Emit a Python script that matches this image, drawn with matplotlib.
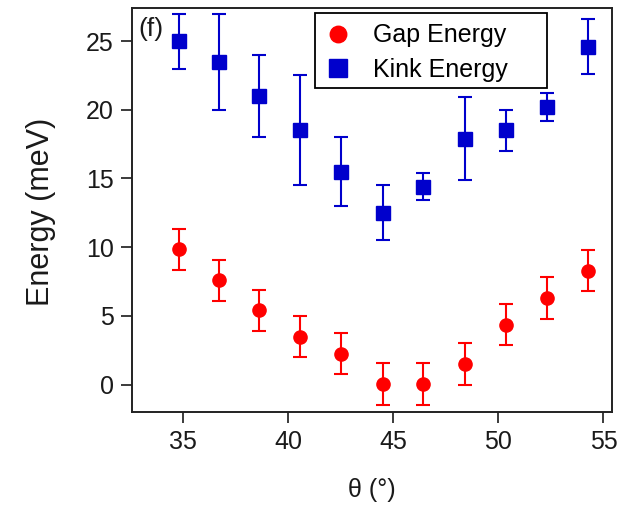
import matplotlib
matplotlib.use("Agg")
import matplotlib.pyplot as plt
from matplotlib.patches import Rectangle

plt.rcParams['font.family'] = ['Liberation Sans', 'DejaVu Sans']

theta = [34.8, 36.7, 38.6, 40.55, 42.5, 44.5, 46.4, 48.4, 50.35, 52.3, 54.25]
gap_energy = [9.85, 7.6, 5.4, 3.5, 2.25, 0.05, 0.05, 1.5, 4.35, 6.3, 8.3]
gap_err = [1.5, 1.5, 1.5, 1.5, 1.5, 1.5, 1.5, 1.5, 1.5, 1.5, 1.5]
kink_energy = [25.0, 23.5, 21.0, 18.5, 15.5, 12.5, 14.4, 17.9, 18.5, 20.2, 24.6]
kink_err_lo = [2.0, 3.5, 3.0, 4.0, 2.5, 2.0, 1.0, 3.0, 1.5, 1.0, 2.0]
kink_err_hi = [2.0, 3.5, 3.0, 4.0, 2.5, 2.0, 1.0, 3.0, 1.5, 1.0, 2.0]
xticks = [35, 40, 45, 50, 55]
yticks = [0, 5, 10, 15, 20, 25]

fig = plt.figure(figsize=(6.36, 5.05), dpi=100)
ax = fig.add_axes([0.207, 0.184, 0.755, 0.800])

ax.errorbar(theta, gap_energy, yerr=gap_err, fmt='o', color='#ff0000',
            ms=9.5, capsize=5, elinewidth=1.5, capthick=1.5, label='Gap Energy')
ax.errorbar(theta, kink_energy, yerr=[kink_err_lo, kink_err_hi], fmt='s', color='#0000cc',
            ms=10.5, capsize=5, elinewidth=1.5, capthick=1.5, label='Kink Energy')

ax.set_xlim(32.54, 55.4)
ax.set_ylim(-2.0, 27.4)
ax.set_xticks(xticks)
ax.set_yticks(yticks)
ax.tick_params(direction='out', length=8, width=1.2, labelsize=18, colors='#1a1a1a', pad=5)
for s in ax.spines.values():
    s.set_linewidth(1.4)
    s.set_color('#222222')

ax.set_xlabel('θ (°)', fontsize=18, color='#1a1a1a')
ax.set_ylabel('Energy (meV)', fontsize=22, color='#1a1a1a')
ax.yaxis.set_label_coords(-0.158, 0.495)
ax.xaxis.set_label_coords(0.50, -0.163)

ax.text(0.013, 0.978, '(f)', transform=ax.transAxes, fontsize=19, va='top', ha='left',
        color='#1a1a1a')

handles, labels = ax.get_legend_handles_labels()
handles = [h[0] for h in handles]
leg = ax.legend(handles, labels, loc='upper left', bbox_to_anchor=(0.382, 0.988),
                fontsize=18, frameon=False, handletextpad=0.88,
                borderpad=0.42, labelspacing=0.42, handlelength=1.0, borderaxespad=0,
                markerscale=1.25)
ax.add_patch(Rectangle((0.382, 0.802), 0.483, 0.186, transform=ax.transAxes,
                       fill=False, edgecolor='#000000', linewidth=1.3, zorder=5))

fig.savefig('out.png', dpi=100)
